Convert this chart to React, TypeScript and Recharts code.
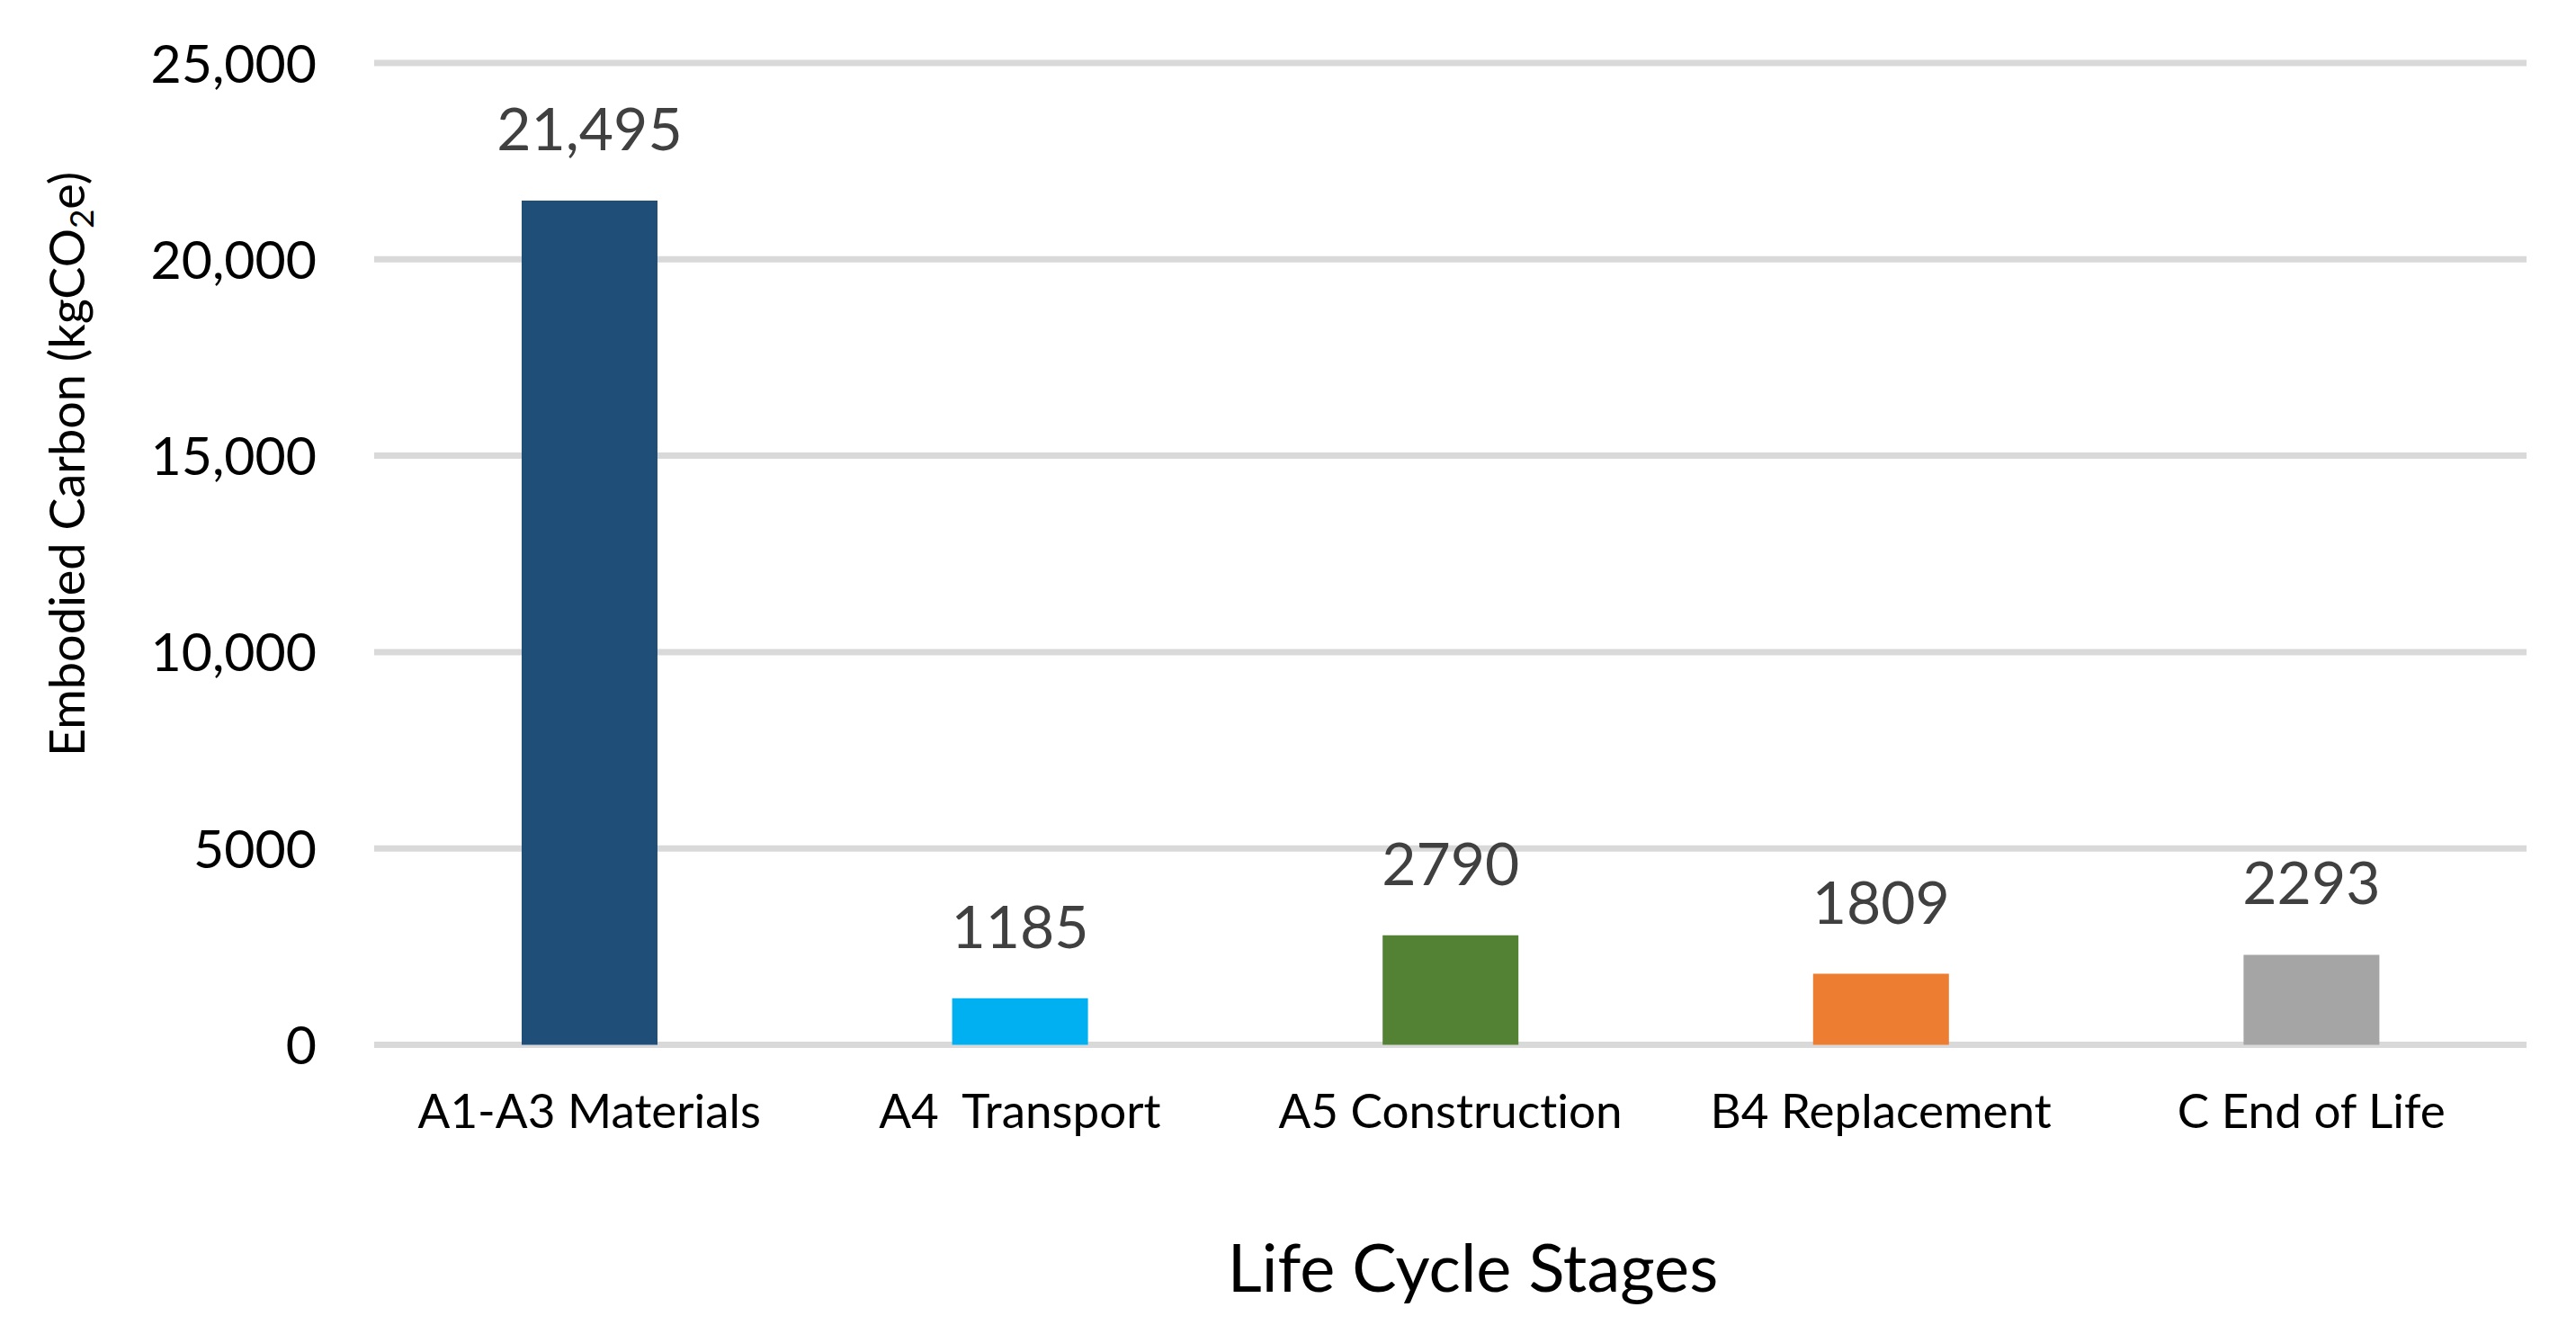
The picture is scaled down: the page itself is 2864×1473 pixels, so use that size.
import { BarChart, Bar, XAxis, YAxis, CartesianGrid, Cell, LabelList, Label } from "recharts";

const STAGES = ["A1-A3 Materials", "A4  Transport", "A5 Construction", "B4 Replacement", "C End of Life"];
const CARBON = [21495, 1185, 2790, 1809, 2293];
const BAR_COLORS = ["#1f4e79", "#00b0f0", "#548235", "#ed7d31", "#a5a5a5"];
const Y_TICKS = [0, 5000, 10000, 15000, 20000, 25000];
const Y_TICK_LABELS = ["0", "5000", "10,000", "15,000", "20,000", "25,000"];

const FONT = "Lato, 'Open Sans', sans-serif";
const NO_LIGA = { fontVariantLigatures: "none" as const, whiteSpace: "pre" as const };

const data = STAGES.map((stage, i) => ({ stage, carbon: CARBON[i] }));

// Excel style: thousands separator only from 10,000 up
const fmt = (v: number) => (v >= 10000 ? v.toLocaleString("en-US") : String(v));

function YTick({ x, y, payload }: any) {
  const i = Y_TICKS.indexOf(payload.value);
  return (
    <text x={x} y={y} dy={21.5} textAnchor="end" fontSize={59} fill="#000" fontFamily={FONT}>
      {Y_TICK_LABELS[i]}
    </text>
  );
}

function XTick({ x, y, payload }: any) {
  return (
    <text x={x} y={y} dy={92.5} textAnchor="middle" fontSize={53} fill="#000" fontFamily={FONT} style={NO_LIGA}>
      {payload.value}
    </text>
  );
}

function YTitle({ viewBox }: any) {
  const x = viewBox.x + 94;
  const y = viewBox.y + 446;
  return (
    <text x={x} y={y} transform={`rotate(-90, ${x}, ${y})`} textAnchor="middle" fontSize={54} fill="#000" fontFamily={FONT} style={NO_LIGA}>
      Embodied Carbon (kgCO
      <tspan fontSize={37} dy={10}>2</tspan>
      <tspan dy={-10}>e)</tspan>
    </text>
  );
}

function XTitle({ viewBox }: any) {
  const x = viewBox.x + viewBox.width / 2 + 25;
  const y = viewBox.y + 274.5;
  return (
    <text x={x} y={y} textAnchor="middle" fontSize={74} fill="#000" fontFamily={FONT} style={NO_LIGA}>
      Life Cycle Stages
    </text>
  );
}

export default function App() {
  return (
    <div style={{ position: "absolute", left: 0, top: 0, background: "#fff" }}>
      <BarChart
        width={2864}
        height={1473}
        data={data}
        margin={{ top: 70, right: 55, left: 0, bottom: 0 }}
        style={{ fontFamily: FONT }}
      >
        <CartesianGrid vertical={false} stroke="#d9d9d9" strokeWidth={7} />
        <XAxis
          dataKey="stage"
          height={311.5}
          axisLine={false}
          tickLine={false}
          tickSize={0}
          tickMargin={0}
          interval={0}
          tick={<XTick />}
        >
          <Label content={<XTitle />} />
        </XAxis>
        <YAxis
          width={416}
          domain={[0, 25000]}
          ticks={Y_TICKS}
          axisLine={false}
          tickLine={false}
          tickSize={0}
          tickMargin={64}
          tick={<YTick />}
        >
          <Label content={<YTitle />} />
        </YAxis>
        <Bar dataKey="carbon" barSize={151} isAnimationActive={false}>
          {data.map((d, i) => (
            <Cell key={d.stage} fill={BAR_COLORS[i]} />
          ))}
          <LabelList
            dataKey="carbon"
            position="top"
            offset={56}
            fontSize={66}
            fill="#404040"
            fontFamily={FONT}
            formatter={(v: any) => fmt(Number(v))}
          />
        </Bar>
      </BarChart>
    </div>
  );
}
